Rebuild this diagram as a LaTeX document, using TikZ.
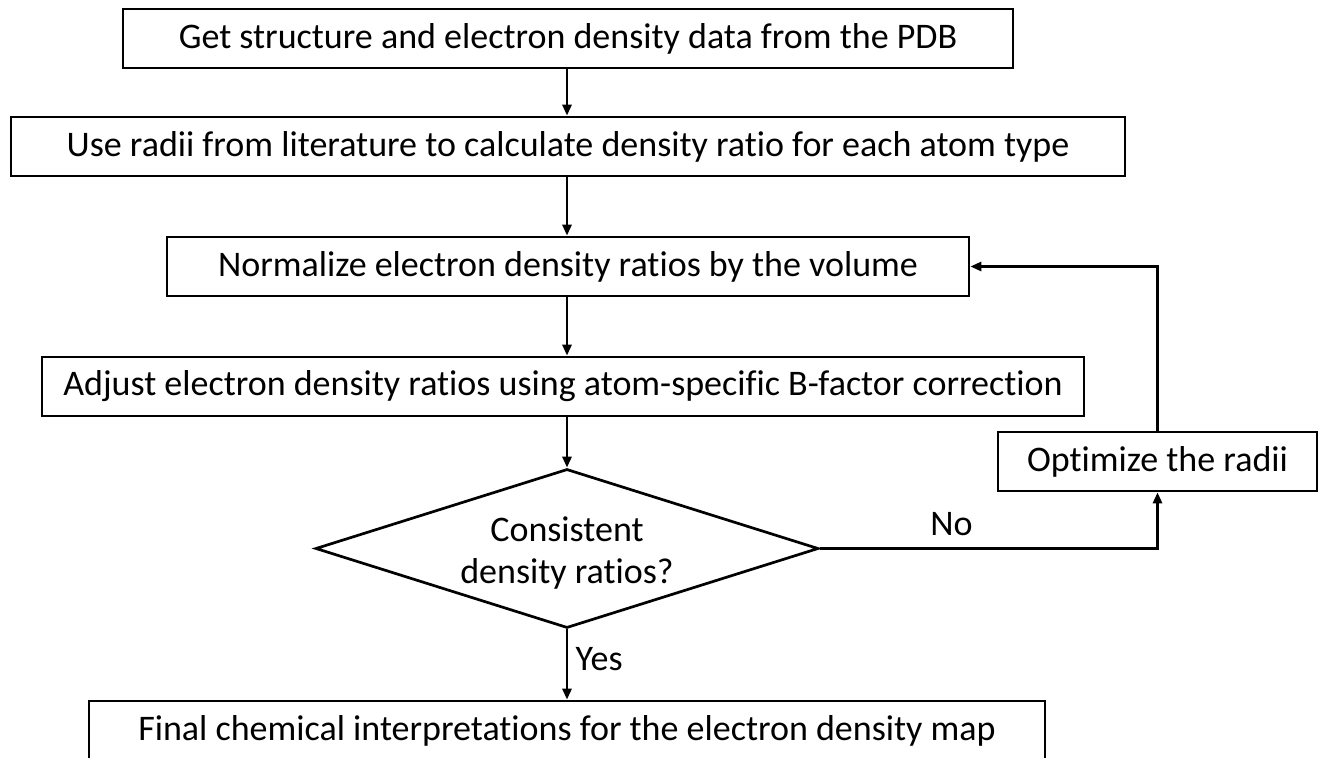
\documentclass[tikz,border=0pt]{standalone}
\usepackage{fontspec}
\setmainfont{Carlito}[Ligatures=NoCommon]
\usepackage{tikz}
\usetikzlibrary{shapes.geometric, arrows, arrows.meta, positioning, calc}

\begin{document}
\begin{tikzpicture}[
    x=1pt, y=-1pt,
    box/.style={draw, line width=2.7pt, minimum height=59pt, inner sep=0pt, align=center, font=\fontsize{36}{42}\selectfont},
    decision/.style={draw, diamond, line width=2.7pt, minimum width=503pt, minimum height=159pt, inner sep=0pt},
    arrow/.style={-{Triangle[length=11pt,width=9pt]}, line width=2.7pt},
    lbl/.style={font=\fontsize{36}{42}\selectfont, align=center}
]
    \useasboundingbox (0,0) rectangle (1321,757);
    \node[box, minimum width=890pt] at (568,38.5) (get) {Get structure and electron density data from the PDB};
    \node[box, minimum width=1114pt] at (568,146.5) (radii) {Use radii from literature to calculate density ratio for each atom type};
    \node[box, minimum width=802pt] at (568,266.5) (norm) {Normalize electron density ratios by the volume};
    \node[box, minimum width=1042pt] at (563,386.5) (adjust) {Adjust electron density ratios using atom-specific B-factor correction};
    \node[decision] at (567,548.5) (check) {};
    \node[lbl] at (567,553) (checktext) {Consistent\\density ratios?};
    \node[box, minimum width=319pt] at (1157.5,461.5) (opt) {Optimize the radii};
    \node[box, minimum width=956pt] at (567,730.5) (final) {Final chemical interpretations for the electron density map};

    \draw[arrow] (get.south -| check) -- (radii.north -| check);
    \draw[arrow] (radii.south -| check) -- (norm.north -| check);
    \draw[arrow] (norm.south -| check) -- (adjust.north -| check);
    \draw[arrow] (adjust.south -| check) -- (check.north);
    \draw[arrow] (check.south) -- node[lbl, right=4pt, pos=0.42] (yes) {Yes} (final.north -| check);
    \draw[arrow] (check.east) -- node[lbl, above=8pt, pos=0.39] (no) {No} (check.east -| opt.south) -- (opt.south);
    \draw[arrow] (opt.north) |- (norm.east);
\end{tikzpicture}
\end{document}
